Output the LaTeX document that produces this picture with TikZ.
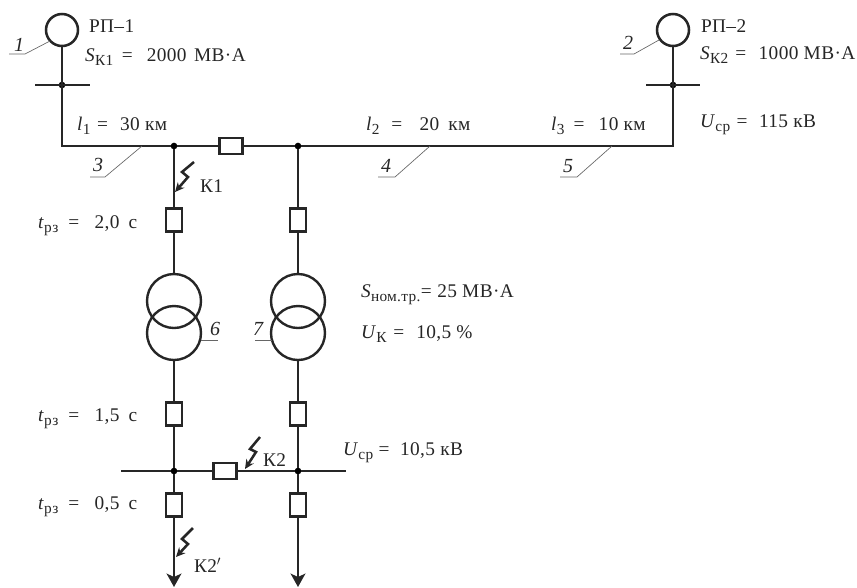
\documentclass[tikz,border=0pt]{standalone}
\usepackage{fontspec}
\setmainfont[LetterSpace=2]{Liberation Serif}
\usetikzlibrary{arrows.meta}
\newcommand{\dn}[1]{\raisebox{-0.45ex}{\fontsize{11.5}{11.5}\selectfont #1}}
\newcommand{\eq}[1][0.38em]{\hspace{#1}=\hspace{#1}}
\tikzset{
  wire/.style={line width=2pt,draw=black!85},
  bus/.style={line width=2.1pt,draw=black!85},
  breakerv/.style={draw=black!85,line width=1.9pt,fill=white,minimum width=12pt,minimum height=17.5pt,inner sep=0,outer sep=0},
  breakerh/.style={draw=black!85,line width=1.9pt,fill=white,minimum width=17.5pt,minimum height=12pt,inner sep=0,outer sep=0},
  source/.style={circle,draw=black!85,line width=1.9pt,minimum size=24pt,inner sep=0,outer sep=0},
  winding/.style={circle,draw=black!85,line width=1.8pt,minimum size=40.5pt,inner sep=0,outer sep=0},
  dotj/.style={circle,fill=black,minimum size=5pt,inner sep=0,outer sep=0},
  txt/.style={anchor=base west,inner sep=0,outer sep=0,font=\fontsize{14.5}{14.5}\selectfont,text=black!85},
  num/.style={anchor=base,inner sep=0,outer sep=0,font=\fontsize{15}{15}\selectfont\itshape,text=black!85},
  leader/.style={line width=0.5pt,draw=black!60},
  flash/.style={line width=1.9pt,draw=black!85,line join=miter,-{Stealth[length=7pt,width=6.5pt]}},
  feeder/.style={wire,-{Stealth[length=10pt,width=11pt,inset=2.5pt]}}
}
\begin{document}
\begin{tikzpicture}[x=0.75pt,y=-0.75pt]
\useasboundingbox (0,0) rectangle (857,587);
% junctions and free ends
\coordinate (a1) at (62,85);
\coordinate (a2) at (673,85);
\coordinate (corner1) at (62,146);
\coordinate (corner2) at (673,146);
\coordinate (busAl) at (35,85);\coordinate (busAr) at (90,85);
\coordinate (busBl) at (646,85);\coordinate (busBr) at (700,85);
\coordinate (busLl) at (121,471);\coordinate (busLr) at (346,471);
\coordinate (endL) at (174,587);\coordinate (endR) at (298,587);
% elements
\node[source] (S1) at (62,30) {};
\node[source] (S2) at (673,30) {};
\node[dotj] (j1) at (174,146) {};
\node[dotj] (j2) at (298,146) {};
\node[dotj] (j3) at (174,471) {};
\node[dotj] (j4) at (298,471) {};
\node[dotj] (ja) at (a1) {};
\node[dotj] (jb) at (a2) {};
\node[breakerh] (Bh1) at (231,146) {};
\node[breakerh] (Bh2) at (225,471) {};
\node[breakerv] (B1) at (174,220) {};
\node[breakerv] (B2) at (298,220) {};
\node[breakerv] (B3) at (174,414) {};
\node[breakerv] (B4) at (298,414) {};
\node[breakerv] (B5) at (174,505) {};
\node[breakerv] (B6) at (298,505) {};
\node[winding] (T1u) at (174,301) {};
\node[winding] (T1d) at (174,333) {};
\node[winding] (T2u) at (298,301) {};
\node[winding] (T2d) at (298,333) {};
% connectors
\draw[wire] (S1) -- (a1) -- (corner1) -- (j1) -- (Bh1);
\draw[wire] (Bh1) -- (j2) -- (corner2) -- (a2) -- (S2);
\draw[bus] (busAl) -- (busAr);
\draw[bus] (busBl) -- (busBr);
\draw[wire] (j1) -- (B1);
\draw[wire] (j2) -- (B2);
\draw[wire] (B1) -- (T1u);
\draw[wire] (B2) -- (T2u);
\draw[wire] (T1d) -- (B3);
\draw[wire] (T2d) -- (B4);
\draw[wire] (B3) -- (j3);
\draw[wire] (B4) -- (j4);
\draw[wire] (j3) -- (B5);
\draw[wire] (j4) -- (B6);
\draw[wire] (busLl) -- (j3) -- (Bh2) -- (j4) -- (busLr);
\draw[feeder] (B5) -- (endL);
\draw[feeder] (B6) -- (endR);
% fault flashes
\draw[flash] (194,162) -- (182,172) -- (188,177) -- (175,192);
\draw[flash] (260,437) -- (250,449) -- (256,452) -- (245,469);
\draw[flash] (193,528) -- (182,539) -- (188,544) -- (176,557);
% leaders
\draw[leader] (50,41) -- (25,54) -- (9,54);
\draw[leader] (659,40) -- (634,54) -- (620,54);
\draw[leader] (142,146) -- (105,177) -- (90,177);
\draw[leader] (430,146) -- (395,177) -- (378,177);
\draw[leader] (612,146) -- (577,177) -- (560,177);
\draw[leader] (201,340) -- (218,340);
\draw[leader] (272,340) -- (255,340);
% numbers
\node[num] (n1) at (19,51) {1};
\node[num] (n2) at (628,49) {2};
\node[num] (n3) at (98,171) {3};
\node[num] (n4) at (386,172) {4};
\node[num] (n5) at (568,172) {5};
\node[num] (n6) at (215,335) {6};
\node[num] (n7) at (258,335) {7};
% labels
\node[txt] (tA) at (89,32) {РП–1};
\node[txt] (tB) at (85,61) {\textit{S}\dn{К1}\eq[0.45em] 2000\hspace{0.12em} МВ·А};
\node[txt] (tC) at (701,32) {РП–2};
\node[txt] (tD) at (700,59) {\textit{S}\dn{К2}\eq[0.37em] 1000 МВ·А};
\node[txt] (tE) at (700,127) {\textit{U}\dn{ср}\eq[0.33em] 115 кВ};
\node[txt] (tF) at (77,130) {\textit{l}\dn{1}\eq[0.35em] 30 км};
\node[txt] (tG) at (366,130) {\textit{l}\dn{2}\eq[0.62em] 20\hspace{0.2em} км};
\node[txt] (tH) at (551,130) {\textit{l}\dn{3}\eq[0.47em] 10 км};
\node[txt] (tI) at (200,192) {К1};
\node[txt] (tJ) at (38,228) {\textit{t}\dn{рз}\eq[0.52em] 2,0\hspace{0.2em} с};
\node[txt] (tK) at (38,421) {\textit{t}\dn{рз}\eq[0.52em] 1,5\hspace{0.2em} с};
\node[txt] (tL) at (38,509) {\textit{t}\dn{рз}\eq[0.52em] 0,5\hspace{0.2em} с};
\node[txt] (tM) at (361,297) {\textit{S}\dn{ном.тр.}\eq[0.02em] 25 МВ·А};
\node[txt] (tN) at (361,338) {\textit{U}\dn{К}\eq[0.35em] 10,5 \%};
\node[txt] (tO) at (343,455) {\textit{U}\dn{ср}\eq[0.28em] 10,5 кВ};
\node[txt] (tP) at (263,466) {К2};
\node[txt] (tQ) at (194,572) {К2$'$};
\end{tikzpicture}
\end{document}
